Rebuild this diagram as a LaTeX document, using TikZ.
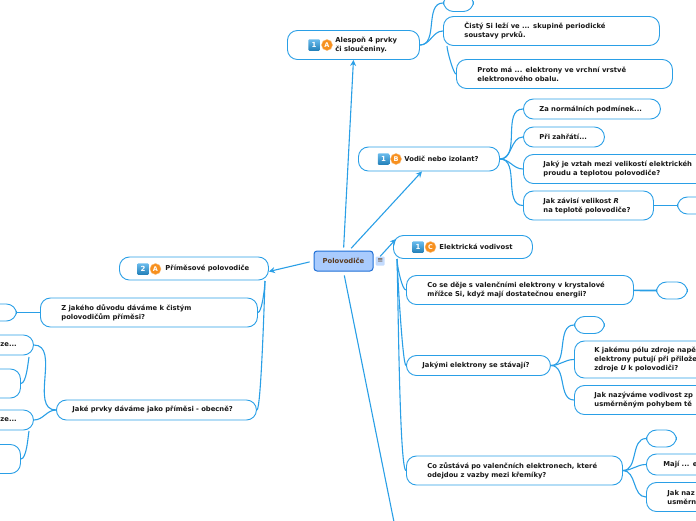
\documentclass[tikz,border=0pt]{standalone}
\usepackage{fontspec}
\setmainfont{DejaVu Sans}
\usepackage{xcolor}
\usetikzlibrary{arrows.meta}
\usetikzlibrary{positioning}
\definecolor{linkblue}{HTML}{2A9FE6}
\definecolor{hubfill}{HTML}{A9CBFD}
\definecolor{hubdraw}{HTML}{1F6FD6}
\definecolor{hubtext}{HTML}{5A3A1E}
\definecolor{badgeorange}{HTML}{F7901E}
\begin{document}
\begin{tikzpicture}
  [
    x = 1pt, y = -1pt,
    bubble/.style 2 args = {draw = linkblue, line width = 0.9pt, fill = white,
                  rounded corners = 10pt, anchor = west, inner xsep = 0pt, inner ysep = 0pt,
                  text width = #1pt, align = left, text = black!90,
                  font = \fontsize{6.8}{9}\selectfont\bfseries,
                  execute at begin node = {\leftskip=#2pt}},
    tall/.style = {minimum height = 29pt},
    flat/.style = {minimum height = 20pt},
    blank/.style = {minimum height = 17pt},
    branch/.style = {draw = linkblue, line width = 1.1pt, out = 180, in = 0},
    leftbranch/.style = {branch, out = 0, in = 180},
    bar/.style = {draw = linkblue, line width = 1.7pt},
    riser/.style = {branch, in = -88, out looseness = 0.08, in looseness = 0.4},
    leftriser/.style = {branch, out = 0, in = -92, out looseness = 0.08, in looseness = 0.4},
    hook/.style = {branch, out = 0, in = -100, out looseness = 0.5, in looseness = 0.5},
    numbadge/.style = {rectangle, rounded corners = 1pt, minimum size = 11.5pt, inner sep = 0pt,
                  top color = linkblue!70!white, bottom color = linkblue!80!black,
                  text = white, font = \fontsize{7}{7}\selectfont\bfseries},
    letterbadge/.style = {circle, draw = badgeorange!60!white, fill = badgeorange, line width = 0.4pt,
                  minimum size = 11pt, inner sep = 0pt,
                  text = white, font = \fontsize{6.5}{7}\selectfont\bfseries},
    arrow/.style = {-{Stealth[length = 6pt, width = 6pt]}, draw = linkblue, line width = 1.1pt},
  ]

  \useasboundingbox (0,0) rectangle (696,520);

  \node[draw = hubdraw, fill = hubfill, line width = 1pt, rounded corners = 3pt,
        minimum width = 59pt, minimum height = 20pt, inner sep = 0pt, text = hubtext,
        font = \fontsize{6.8}{9}\selectfont\bfseries] (polovodice) at (343.5,261) {Polovodiče};
  \node[fill = hubfill!70!white, rounded corners = 1pt, minimum size = 9pt, inner sep = 0pt,
        text = hubtext, font = \fontsize{7}{7}\selectfont]
        [right = 2pt of polovodice] (menu) {≡};

  \node[bubble = {132}{48}, tall] (alespon) at (287,45) {Alespoň 4 prvky\\či sloučeniny.};
  \node[numbadge] (alespon_num) at (314,45) {1};
  \node[letterbadge] (alespon_letter) at (327,45) {A};

  \node[bubble = {30}{10}, blank] (top_blank) at (443,3) {}
    edge[branch](alespon.east);
  \node[bubble = {216}{21}, tall] (cisty) at (443,31) {Čistý Si leží ve ... skupině periodické\\soustavy prvků.}
    edge[branch](alespon.east);
  \coordinate (proto_stub) at (447,46);
  \node[bubble = {216}{21}, tall] (proto) at (456,74) {Proto má ... elektrony ve vrchní vrstvě\\elektronového obalu.}
    edge[riser, in looseness = 0.5, out looseness = 0.2](proto_stub);

  \node[bubble = {141}{46}, flat, minimum height = 24pt] (vodic) at (358,159) {Vodič nebo izolant?};
  \node[numbadge] (vodic_num) at (383.5,159) {1};
  \node[letterbadge] (vodic_letter) at (396,159) {B};

  \node[bubble = {137}{16}, flat] (normalni) at (523,109) {Za normálních podmínek...}
    edge[branch](vodic.east);
  \node[bubble = {81}{16}, flat] (zahrati) at (523,137) {Při zahřátí...}
    edge[branch](vodic.east);
  \node[bubble = {216}{20}, tall] (vztah) at (523,169) {Jaký je vztah mezi velikostí elektrickéh\\proudu a teplotou polovodiče?}
    edge[branch](vodic.east);
  \node[bubble = {130}{20}, tall] (zavisi) at (523,205.5) {Jak závisí velikost \textit{R}\\na teplotě polovodiče?}
    edge[branch](vodic.east);
  \node[bubble = {30}{10}, blank] (zavisi_blank) at (677,205.5) {}
    edge[bar](zavisi);

  \node[bubble = {139}{46}, flat, minimum height = 23pt] (vodivost) at (393,247) {Elektrická vodivost};
  \node[numbadge] (vodivost_num) at (418,247) {1};
  \node[letterbadge] (vodivost_letter) at (430.5,247) {C};

  \coordinate (vodivost_stub) at (397,259);
  \node[bubble = {227}{21}, tall] (deje) at (406,290) {Co se děje s valenčními elektrony v krystalové\\mřížce Si, když mají dostatečnou energii?}
    edge[riser, in looseness = 0.7, out looseness = 0.3](vodivost_stub);
  \node[bubble = {31}{10}, blank] (deje_blank) at (656,290.5) {}
    edge[bar](deje);

  \node[bubble = {144}{16}, flat] (jakymi) at (406,365.5) {Jakými elektrony se stávají?}
    edge[riser](vodivost_stub);
  \node[bubble = {30}{10}, blank] (jakymi_blank) at (574,325) {}
    edge[branch](jakymi.east);
  \node[bubble = {216}{20}, minimum height = 37pt] (polu) at (574,359.5) {K jakému pólu zdroje napě\\elektrony putují při přilože\\zdroje \textit{U} k polovodiči?}
    edge[branch](jakymi.east);
  \node[bubble = {216}{20}, tall] (nazyvame) at (574,400) {Jak nazýváme vodivost zp\\usměrněným pohybem tě}
    edge[branch](jakymi.east);

  \node[bubble = {216}{21}, tall] (zustava) at (406,470.5) {Co zůstává po valenčních elektronech, které\\odejdou z vazby mezi křemíky?}
    edge[riser](vodivost_stub);
  \node[bubble = {30}{10}, blank] (zustava_blank) at (646,438.5) {}
    edge[branch](zustava.east);
  \node[bubble = {130}{17}, flat, minimum height = 21pt] (maji) at (646,464.5) {Mají ... e}
    edge[branch](zustava.east);
  \node[bubble = {216}{21}, tall] (jak_naz) at (646,497) {Jak naz\\usměrn}
    edge[branch](zustava.east);

  \node[bubble = {149}{46}, flat, minimum height = 23pt] (primesove) at (119,268.5) {Příměsové polovodiče};
  \node[numbadge] (primesove_num) at (143,269) {2};
  \node[letterbadge] (primesove_letter) at (155.5,269) {A};

  \coordinate (primesove_stub) at (265,281);
  \node[bubble = {217}{21}, tall] (duvod) at (40,312.5) {Z jakého důvodu dáváme k čistým\\polovodičům příměsi?}
    edge[leftriser, in looseness = 0.7, out looseness = 0.3](primesove_stub);
  \node[bubble = {30}{10}, blank] (duvod_blank) at (-14,312.5) {}
    edge[bar](duvod);

  \node[bubble = {200}{16}, flat] (prvky) at (56,410) {Jaké prvky dáváme jako příměsi - obecně?}
    edge[leftriser](primesove_stub);
  \node[bubble = {130}{97}, flat] (ze_top) at (-97,345) {ze...}
    edge[leftbranch](prvky.west);
  \coordinate (ze_top_stub) at (29,357);
  \node[bubble = {130}{10}, tall] (ze_top_box) at (-110,383.5) {}
    edge[hook](ze_top_stub);
  \node[bubble = {130}{97}, flat] (ze_low) at (-97,420) {ze...}
    edge[leftbranch](prvky.west);
  \coordinate (ze_low_stub) at (29,431);
  \node[bubble = {130}{10}, tall] (ze_low_box) at (-110,459) {}
    edge[hook](ze_low_stub);

  \coordinate (next_topic) at (394,522);
  \draw[arrow, shorten <= 3pt] (polovodice.north) -- (alespon.south);
  \draw[arrow, shorten <= 3pt] (polovodice.62) -- ([xshift = -7pt]vodic.south);
  \draw[arrow] (menu.north) -- ([xshift = 3pt, yshift = 8pt]vodivost.west);
  \draw[arrow, shorten <= 4pt] (polovodice.west) -- ([yshift = -3pt]primesove.east);
  \draw[draw = linkblue, line width = 1.1pt, shorten <= 4pt] (polovodice.south) -- (next_topic);

\end{tikzpicture}
\end{document}
